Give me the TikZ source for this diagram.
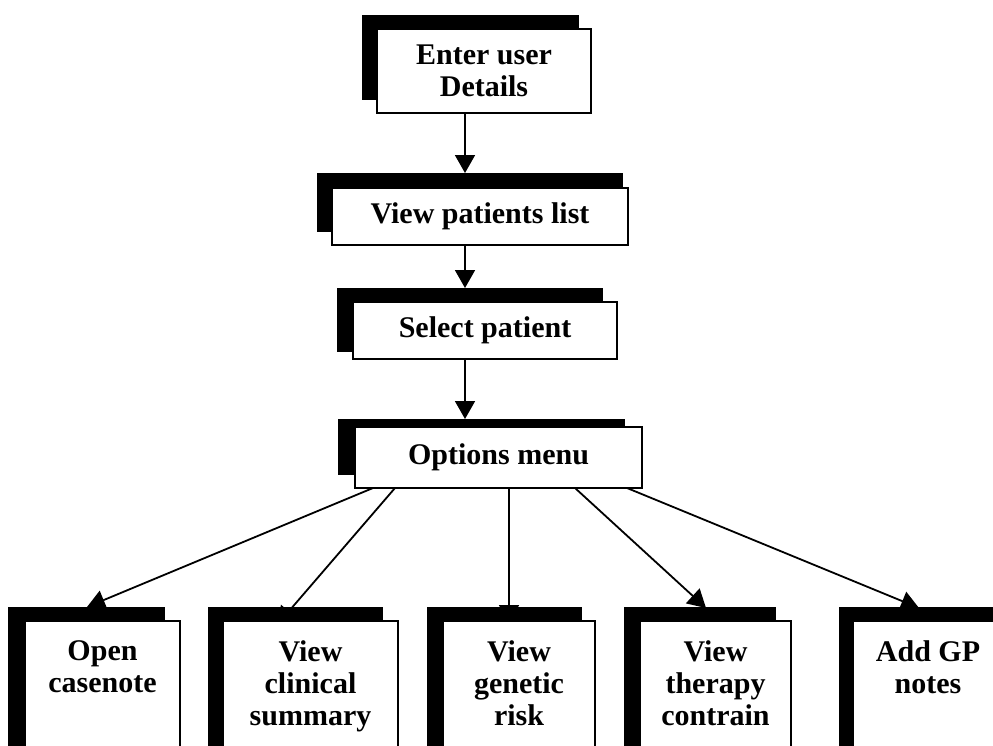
\documentclass[tikz,border=0pt]{standalone}
\usepackage{fontspec}
\setmainfont{Liberation Serif}
\usetikzlibrary{arrows.meta}
\pgfdeclarelayer{paper}
\pgfdeclarelayer{wires}
\pgfsetlayers{paper,wires,main}
\newcommand{\panelfont}{\fontsize{30}{32}\selectfont\bfseries}
% black offset block behind a panel: name, x1, y1, x2, y2
\newcommand{\dropblock}[5]{%
  \node[shade, minimum width={(#4-#2)*1pt}, minimum height={(#5-#3)*1pt}]
    (#1) at ({(#2+#4)/2},{(#3+#5)/2}) {};}
% white framed panel: name, x1, y1, x2, y2, text
\newcommand{\panel}[6]{%
  \node[panelbox, minimum width={(#4-#2)*1pt}, minimum height={(#5-#3)*1pt}]
    (#1) at ({(#2+#4)/2},{(#3+#5)/2}) {#6};}
\tikzset{
  shade/.style={fill=black, draw=none, inner sep=0pt, outer sep=0pt},
  panelbox/.style={draw=black, fill=white, line width=1.6pt, inner sep=0pt,
    outer sep=0pt, align=center, font=\panelfont},
  caption/.style={inner sep=0pt, align=center, font=\panelfont},
  link/.style={line width=1.8pt, -{Triangle[width=20pt,length=18pt]}},
}
\begin{document}
\begin{tikzpicture}[x=1pt,y=-1pt]
\clip (0,0) rectangle (993,745);
\begin{pgfonlayer}{paper}
  \fill[white] (0,0) rectangle (993,745);
\end{pgfonlayer}

% top chain
\dropblock{s1}{362}{15}{579}{100}
\panel{b1}{377}{29}{591}{113}{Enter user\\Details}
\dropblock{s2}{317}{173}{623}{232}
\panel{b2}{332}{188}{628}{245}{View patients list}
\dropblock{s3}{337}{288}{603}{352}
\panel{b3}{353}{302}{617}{359}{Select patient}
\dropblock{s4}{338}{419}{625}{475}
\panel{b4}{355}{427}{642}{488}{Options menu}

% option panels along the bottom
\dropblock{sO}{8}{607}{165}{800}
\panel{bO}{25}{621}{180}{800}{}
\dropblock{sC}{208}{607}{383}{800}
\panel{bC}{223}{621}{398}{800}{}
\dropblock{sG}{427}{607}{582}{800}
\panel{bG}{443}{621}{595}{800}{}
\dropblock{sT}{624}{607}{776}{800}
\panel{bT}{640}{621}{791}{800}{}
\dropblock{sA}{839}{607}{1010}{800}
\panel{bA}{853}{621}{1003}{800}{}

\node[caption, anchor=north] (tO) at (bO.north |- 0,640) {Open\\casenote};
\node[caption, anchor=north] (tC) at (bC.north |- 0,640) {View\\clinical\\summary};
\node[caption, anchor=north] (tG) at (bG.north |- 0,640) {View\\genetic\\risk};
\node[caption, anchor=north] (tT) at (bT.north |- 0,640) {View\\therapy\\contrain};
\node[caption, anchor=north] (tA) at (bA.north |- 0,640) {Add GP\\notes};

\begin{pgfonlayer}{wires}
  \draw[link] (b1.south -| 465,0) -- (s2.north -| 465,0);
  \draw[link] (b2.south -| 465,0) -- (s3.north -| 465,0);
  \draw[link] (b3.south -| 465,0) -- (s4.north -| 465,0);
  \draw[link] (b4.south -| 373,0) -- (sO.north -| 87,0);
  \draw[link] (b4.south -| 395,0) -- ([yshift=-18pt]sC.north -| 277,0);
  \draw[link] (b4.south -| 509,0) -- ([yshift=-16pt]sG.north -| 509,0);
  \draw[link] (b4.south -| 575,0) -- ([yshift=-1pt]sT.north -| 706,0);
  \draw[link] (b4.south -| 627,0) -- ([yshift=-1pt]sA.north -| 919,0);
\end{pgfonlayer}
\end{tikzpicture}
\end{document}
